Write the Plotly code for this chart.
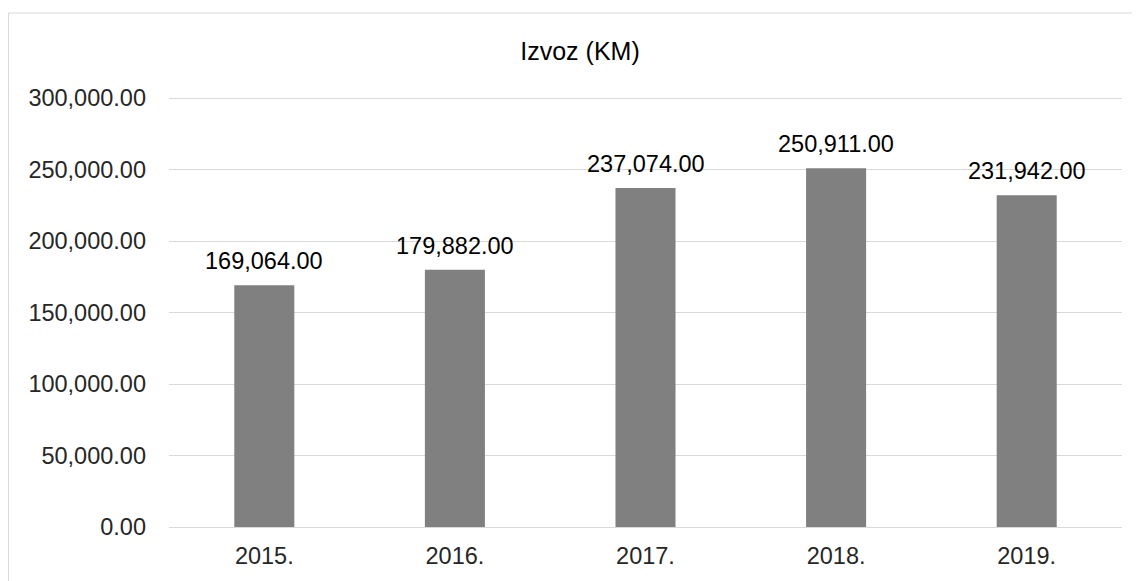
import plotly.graph_objects as go

categories = ["2015.", "2016.", "2017.", "2018.", "2019."]
values = [169064.00, 179882.00, 237074.00, 250911.00, 231942.00]
tick_vals = [0, 50000, 100000, 150000, 200000, 250000, 300000]
tick_text = ["0.00", "50,000.00", "100,000.00", "150,000.00", "200,000.00", "250,000.00", "300,000.00"]
title_text = "Izvoz (KM)"

# the page body adds an 8px margin, so the figure is drawn 8px smaller
W, H = 1132, 573
L, R, T, B = 161, 18, 87, 54
pw, ph = W - L - R, H - T - B
ymax = 300000 * (527 - 95) / (527 - 98)
FONT = "Liberation Sans, Arial, sans-serif"

fig = go.Figure()
fig.add_trace(go.Bar(
    x=categories, y=values,
    width=0.315,
    marker=dict(color="#808080", line=dict(width=0)),
    hovertemplate="%{x}: %{y:,.2f}<extra></extra>",
))

# data labels; on a category axis a numeric x is the category index
for i, v in enumerate(values):
    fig.add_annotation(x=i, y=v, xref="x", yref="y", text=f"{v:,.2f}",
                       showarrow=False, yanchor="middle", xanchor="center", yshift=24,
                       font=dict(family=FONT, size=23.5, color="#000000"))

fig.update_layout(
    width=W, height=H,
    margin=dict(l=L, r=R, t=T, b=B, autoexpand=False),
    paper_bgcolor="white", plot_bgcolor="white",
    font=dict(family=FONT, size=23.5, color="#262626"),
    showlegend=False,
    title=dict(text=title_text, x=(572 - L) / pw, xref="paper", xanchor="center",
               y=1 - 43 / H, yref="container", yanchor="middle",
               font=dict(size=25, color="#000000")),
    xaxis=dict(type="category", categoryorder="array", categoryarray=categories,
               range=[-0.5, len(categories) - 0.5],
               showgrid=False, showline=False, ticks="", ticklabelstandoff=12,
               tickfont=dict(size=23.5, color="#262626")),
    yaxis=dict(range=[0, ymax], tickvals=tick_vals, ticktext=tick_text,
               showgrid=True, gridcolor="#d9d9d9", gridwidth=1,
               zeroline=True, zerolinecolor="#d9d9d9", zerolinewidth=1,
               showline=False, ticks="", ticklabelstandoff=22,
               tickfont=dict(size=23.5, color="#262626")),
)

# chart-area border
fig.add_shape(type="rect", xref="paper", yref="paper",
              x0=(0.5 - L) / pw, x1=(1125 - L) / pw,
              y0=(H - B - 600) / ph, y1=(H - B - 5) / ph,
              line=dict(color="#d9d9d9", width=1), fillcolor="rgba(0,0,0,0)", layer="below")

fig.write_html("out.html")
